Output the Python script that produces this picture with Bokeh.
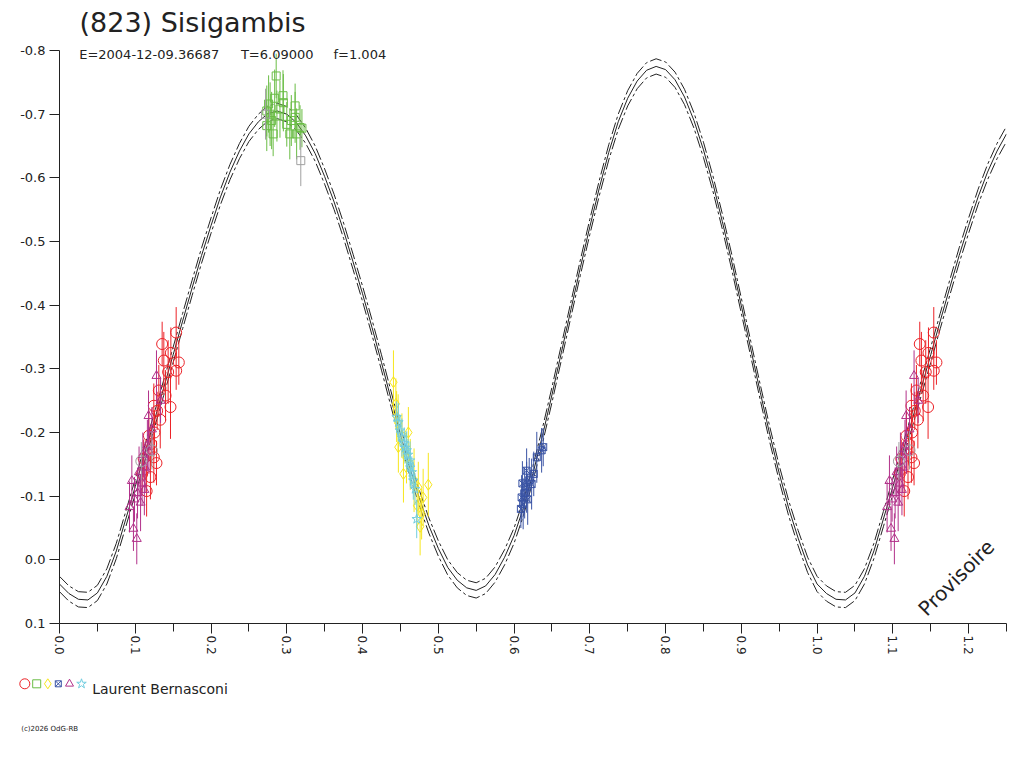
import math
from bokeh.plotting import figure
from bokeh.layouts import column, row
from bokeh.models import Label, Title, FixedTicker, PrintfTickFormatter, ColumnDataSource, Range1d
from bokeh.embed import file_html
from bokeh.resources import INLINE

# ---------------- data ----------------
title_text = "(823) Sisigambis"
epoch_text = "E=2004-12-09.36687"
period_text = "T=6.09000"
factor_text = "f=1.004"
observer_text = "Laurent Bernasconi"
copyright_text = "(c)2026 OdG-RB"
stamp_text = "Provisoire"

x_ticks = [0.0, 0.1, 0.2, 0.3, 0.4, 0.5, 0.6, 0.7, 0.8, 0.9, 1.0, 1.1, 1.2]
x_minor = [0.05, 0.15, 0.25, 0.35, 0.45, 0.55, 0.65, 0.75, 0.85, 0.95, 1.05, 1.15, 1.25]
y_ticks = [-0.8, -0.7, -0.6, -0.5, -0.4, -0.3, -0.2, -0.1, 0.0, 0.1]

# fitted light curve, phase 0..1 in steps of 0.0125
fit_phase = [i * 0.0125 for i in range(81)]
fit_mag = [
    0.038, 0.053, 0.062, 0.063, 0.052, 0.026, -0.014, -0.064,
    -0.115, -0.167, -0.218, -0.270, -0.322, -0.375, -0.427, -0.478,
    -0.525, -0.570, -0.609, -0.642, -0.669, -0.688, -0.701, -0.705,
    -0.700, -0.687, -0.666, -0.638, -0.602, -0.562, -0.517, -0.468,
    -0.418, -0.365, -0.310, -0.253, -0.197, -0.144, -0.097, -0.054,
    -0.018, 0.012, 0.032, 0.044, 0.048, 0.041, 0.023, -0.004,
    -0.038, -0.082, -0.136, -0.195, -0.259, -0.326, -0.393, -0.459,
    -0.523, -0.584, -0.640, -0.688, -0.725, -0.752, -0.769, -0.775,
    -0.770, -0.754, -0.727, -0.690, -0.644, -0.591, -0.531, -0.467,
    -0.399, -0.331, -0.263, -0.197, -0.136, -0.081, -0.034, 0.008,
    0.038,
]
fit_band = 0.012

# sessions: phase, magnitude, error
red_phase = [0.154, 0.1355, 0.1377, 0.1575, 0.1434, 0.154, 0.147, 0.1311, 0.1465, 0.1245,
             0.1289, 0.140, 0.133, 0.118, 0.1253, 0.121, 0.1245, 0.1111, 0.120, 0.1091,
             0.115, 0.128]
red_mag = [-0.357, -0.339, -0.313, -0.310, -0.295, -0.297, -0.325, -0.266, -0.240, -0.242,
           -0.234, -0.258, -0.220, -0.195, -0.200, -0.182, -0.161, -0.159, -0.130, -0.135,
           -0.108, -0.152]
red_err = [0.040, 0.035, 0.045, 0.035, 0.050, 0.030, 0.040, 0.040, 0.050, 0.035,
           0.030, 0.040, 0.045, 0.040, 0.035, 0.030, 0.040, 0.030, 0.035, 0.030,
           0.040, 0.035]

green_phase = [0.286, 0.276, 0.2736, 0.2736, 0.282, 0.295, 0.2955, 0.311, 0.311, 0.3175,
               0.320, 0.304, 0.280, 0.287, 0.300, 0.313, 0.291, 0.278, 0.306, 0.284]
green_mag = [-0.760, -0.716, -0.705, -0.682, -0.669, -0.729, -0.718, -0.713, -0.695, -0.679,
             -0.678, -0.669, -0.690, -0.697, -0.684, -0.669, -0.708, -0.700, -0.690, -0.725]
green_err = [0.035, 0.045, 0.040, 0.040, 0.035, 0.040, 0.045, 0.035, 0.040, 0.035,
             0.030, 0.040, 0.045, 0.040, 0.035, 0.040, 0.045, 0.050, 0.040, 0.045]

yellow_phase = [0.4408, 0.444, 0.447, 0.4473, 0.452, 0.4605, 0.454, 0.458, 0.463, 0.468,
                0.4736, 0.4868, 0.480, 0.478, 0.476, 0.472, 0.445]
yellow_mag = [-0.279, -0.245, -0.215, -0.177, -0.195, -0.200, -0.135, -0.160, -0.150, -0.125,
              -0.114, -0.118, -0.098, -0.072, -0.052, -0.085, -0.225]
yellow_err = [0.050, 0.040, 0.045, 0.040, 0.035, 0.040, 0.045, 0.040, 0.040, 0.050,
              0.040, 0.050, 0.045, 0.040, 0.045, 0.035, 0.040]

blue_phase = [0.610, 0.612, 0.609, 0.6166, 0.6166, 0.614, 0.620, 0.6232, 0.626, 0.630,
              0.6364, 0.6385, 0.611, 0.618]
blue_mag = [-0.098, -0.088, -0.080, -0.114, -0.140, -0.105, -0.125, -0.119, -0.135, -0.161,
            -0.172, -0.177, -0.120, -0.095]
blue_err = [0.035, 0.040, 0.030, 0.040, 0.035, 0.040, 0.035, 0.040, 0.035, 0.040,
            0.035, 0.030, 0.035, 0.040]

purple_phase = [0.128, 0.1334, 0.1175, 0.122, 0.116, 0.110, 0.113, 0.105, 0.109, 0.0955,
                0.103, 0.099, 0.0924, 0.107, 0.0976, 0.102, 0.112, 0.118]
purple_mag = [-0.289, -0.250, -0.226, -0.205, -0.180, -0.165, -0.145, -0.138, -0.120, -0.124,
              -0.105, -0.095, -0.083, -0.090, -0.049, -0.033, -0.110, -0.170]
purple_err = [0.040, 0.035, 0.040, 0.035, 0.040, 0.035, 0.040, 0.040, 0.035, 0.040,
              0.040, 0.035, 0.040, 0.045, 0.035, 0.040, 0.040, 0.035]

cyan_phase = [0.445, 0.4473, 0.4495, 0.452, 0.455, 0.4583, 0.460, 0.4627, 0.465, 0.467,
              0.4693, 0.463, 0.4715, 0.456]
cyan_mag = [-0.224, -0.216, -0.203, -0.192, -0.183, -0.172, -0.165, -0.156, -0.1375, -0.1245,
            -0.111, -0.145, -0.064, -0.176]
cyan_err = [0.025, 0.030, 0.025, 0.030, 0.025, 0.030, 0.025, 0.030, 0.025, 0.030,
            0.025, 0.030, 0.030, 0.025]

grey_circle_phase = [0.108, 0.122]
grey_circle_mag = [-0.155, -0.172]
grey_circle_err = [0.030, 0.030]

grey_square_phase = [0.3185, 0.272]
grey_square_mag = [-0.627, -0.700]
grey_square_err = [0.040, 0.040]

RED, GREEN, YELLOW, BLUE, PURPLE, CYAN, GREY = (
    "#ec2227", "#6abd45", "#f7e61c", "#3953a4", "#b2318a", "#70cde0", "#a0a0a0")

series = [
    (red_phase, red_mag, red_err, RED, "circle", 11),
    (purple_phase, purple_mag, purple_err, PURPLE, "triangle", 9),
    (grey_circle_phase, grey_circle_mag, grey_circle_err, GREY, "circle", 11),
    (green_phase, green_mag, green_err, GREEN, "square", 8),
    (grey_square_phase, grey_square_mag, grey_square_err, GREY, "square", 8),
    (yellow_phase, yellow_mag, yellow_err, YELLOW, "diamond", 11),
    (cyan_phase, cyan_mag, cyan_err, CYAN, "star", 10),
    (blue_phase, blue_mag, blue_err, BLUE, "square_x", 7),
]

legend_markers = ["circle", "square", "diamond", "square_x", "triangle", "star"]
legend_colors = [RED, GREEN, YELLOW, BLUE, PURPLE, CYAN]
legend_sizes = [10, 8, 10, 6, 8, 10]

# ---------------- main figure ----------------
FONT = "DejaVu Sans"
INK = "#222222"
X_MAX = 1.25
W = 1016
Y_TOP = -0.8 - 10 * 0.9 / 573   # 10 px of headroom above the -0.8 tick for the subtitle

p = figure(width=W, height=663, x_range=Range1d(0, X_MAX), y_range=Range1d(0.1, Y_TOP),
           output_backend="svg", toolbar_location=None, title=None,
           min_border_left=59, min_border_top=40, min_border_right=10, min_border_bottom=40)
p.outline_line_color = None
p.grid.visible = False
p.background_fill_color = "white"
p.border_fill_color = "white"

p.add_layout(Title(text=title_text, align="left", offset=20, standoff=6,
                   text_font=FONT, text_font_size="27px", text_font_style="normal",
                   text_color=INK), "above")

xa = p.xaxis[0]
xa.ticker = FixedTicker(ticks=x_ticks, minor_ticks=x_minor)
xa.formatter = PrintfTickFormatter(format="%.1f")
xa.major_tick_out = 10
xa.major_tick_in = 0
xa.minor_tick_out = 8
xa.minor_tick_in = 0
xa.axis_line_color = INK
xa.major_tick_line_color = INK
xa.minor_tick_line_color = INK
xa.major_label_orientation = -math.pi / 2
xa.major_label_standoff = 2
xa.major_label_text_font = FONT
xa.major_label_text_font_size = "12px"
xa.major_label_text_color = INK

ya = p.yaxis[0]
ya.ticker = FixedTicker(ticks=y_ticks, minor_ticks=[])
ya.formatter = PrintfTickFormatter(format="%.1f")
ya.bounds = (-0.8, 0.1)
ya.major_tick_out = 10
ya.major_tick_in = 0
ya.minor_tick_out = 0
ya.minor_tick_in = 0
ya.axis_line_color = INK
ya.major_tick_line_color = INK
ya.major_label_standoff = 4
ya.major_label_text_font = FONT
ya.major_label_text_font_size = "13px"
ya.major_label_text_color = INK

# fitted curve repeated beyond phase 1
cx = fit_phase[:-1] + [ph + 1 for ph in fit_phase if ph + 1 <= X_MAX + 1e-9]
cy = fit_mag[:-1] + [m for ph, m in zip(fit_phase, fit_mag) if ph + 1 <= X_MAX + 1e-9]
p.line(cx, [m - fit_band for m in cy], line_color=INK, line_width=1, line_dash="12 3 3 3")
p.line(cx, [m + fit_band for m in cy], line_color=INK, line_width=1, line_dash="12 3 3 3")
p.line(cx, cy, line_color=INK, line_width=1)

# observations (each point also shown one period later)
for ph, mg, er, col, mk, sz in series:
    xs, ys, es = [], [], []
    for a, b, c in zip(ph, mg, er):
        xs.append(a); ys.append(b); es.append(c)
        if a + 1 <= X_MAX:
            xs.append(a + 1); ys.append(b); es.append(c)
    src = ColumnDataSource(dict(x=xs, y=ys, lo=[b - c for b, c in zip(ys, es)],
                                hi=[b + c for b, c in zip(ys, es)]))
    p.segment(x0="x", y0="lo", x1="x", y1="hi", source=src, line_color=col, line_width=1)
    p.scatter(x="x", y="y", source=src, marker=mk, size=sz, fill_color=None,
              line_color=col, line_width=1)

# texts inside the plot frame (screen units relative to the frame's bottom-left)
def flab(text, x, y, size, angle=0.0):
    p.add_layout(Label(x=x, y=y, x_units="screen", y_units="screen", text=text,
                       text_font=FONT, text_font_size=size, text_color=INK,
                       angle=angle, text_align="left", text_baseline="alphabetic"))

flab(epoch_text, 19.7, 569, "13px")
flab(period_text, 181.4, 569, "13px")
flab(factor_text, 274, 569, "13px")
flab(stamp_text, 862.4, 11.3, "20px", angle=math.pi / 4)

# ---------------- legend / footer strip ----------------
H2 = 100
q = figure(width=W, height=H2, x_range=Range1d(0, W), y_range=Range1d(H2, 0),
           output_backend="svg", toolbar_location=None, title=None,
           min_border=0, min_border_left=0, min_border_right=0,
           min_border_top=0, min_border_bottom=0)
q.axis.visible = False
q.grid.visible = False
q.outline_line_color = None
q.background_fill_color = "white"
q.border_fill_color = "white"

sym_x = [24.3, 36.2, 47.3, 57.8, 69.0, 81.0]
q.scatter(x=sym_x, y=[20.3] * len(sym_x), marker=legend_markers, size=legend_sizes,
          fill_color=None, line_color=legend_colors, line_width=1)
q.add_layout(Label(x=91.7, y=25.3, text=observer_text, text_font=FONT,
                   text_font_size="14px", text_color=INK, text_baseline="alphabetic"))
q.add_layout(Label(x=20.7, y=65.3, text=copyright_text, text_font=FONT,
                   text_font_size="7px", text_color=INK, text_baseline="alphabetic"))

open("out.html", "w").write(file_html(column(p, row(q)), INLINE))
